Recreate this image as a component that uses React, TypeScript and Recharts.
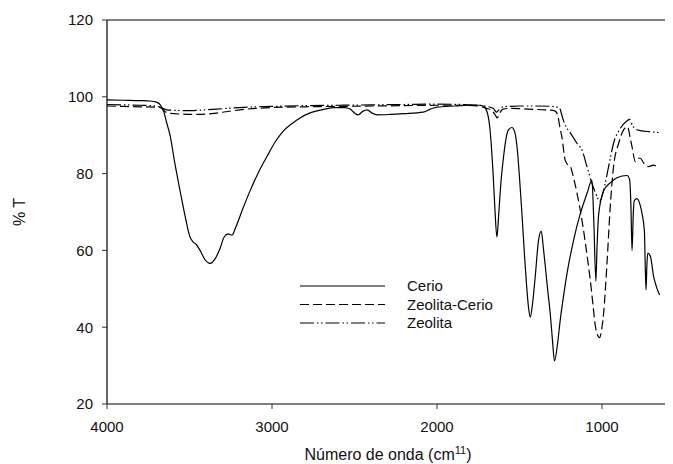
import React from "react";
import { LineChart, Line, XAxis, YAxis, ReferenceLine } from "recharts";

// Cerio (solid)
const cerioWn = [
  4000, 3900, 3800, 3740, 3700, 3675, 3655, 3640, 3618, 3590, 3557, 3527, 3497, 3480, 3460, 3436, 3405, 3375,
  3345, 3315, 3290, 3266, 3242, 3220, 3180, 3133, 3080, 3030, 2980, 2933, 2880, 2830, 2769, 2700, 2630, 2560,
  2526, 2500, 2478, 2450, 2423, 2395, 2363, 2284, 2200, 2084, 2040, 1999, 1900, 1800, 1740, 1720, 1700, 1680,
  1660, 1648, 1637, 1625, 1612, 1599, 1580, 1568, 1546, 1530, 1515, 1500, 1485, 1470, 1459, 1445, 1435, 1420,
  1405, 1385, 1368, 1355, 1344, 1330, 1314, 1300, 1288, 1270, 1253, 1230, 1212, 1172, 1132, 1091, 1061, 1050,
  1037, 1030, 1020, 990, 950, 909, 848, 833, 825, 818, 810, 804, 788, 770, 757, 743, 738, 733, 728, 723, 707,
  687, 670, 651,
];
const cerioT = [
  99.2, 99.1, 99, 98.9, 98.6, 97.8, 96, 93.5, 90, 83, 75.5, 69, 63.5, 62.3, 61.6, 60, 57.5, 56.6,
  57.8, 60.5, 63.5, 64.3, 64, 66, 70.5, 75.5, 80.5, 84.5, 88.3, 91, 93, 94.5, 95.8, 96.6, 97.2, 97.2,
  96.8, 95.8, 95.3, 96.2, 96.6, 95.8, 95.3, 95.4, 95.6, 96, 96.8, 97.3, 97.6, 97.8, 97.8, 97.6, 96.5, 92,
  80, 70, 63.5, 70, 78, 83.5, 89.5, 91.3, 92, 91, 87, 79, 69.5, 59, 52, 45, 42.6, 46.5,
  53, 62.5, 65, 60.5, 56, 50, 43.7, 36.5, 31.2, 35.5, 41.9, 49, 54, 62.7, 69.5, 74.8, 78.3, 68,
  52, 61, 69.5, 75.5, 77.6, 78.9, 79.5, 78.5, 72, 60, 70, 73, 73.5, 72, 69.5, 65, 56, 49.7, 56, 59.3, 58.5,
  53.2, 50.5, 48.4,
];

// Zeolita-Cerio (dashed)
const zeoCerWn = [
  4000, 3900, 3800, 3700, 3670, 3650, 3620, 3550, 3450, 3350, 3250, 3150, 3000, 2800, 2600, 2400, 2200, 2000,
  1850, 1750, 1700, 1670, 1650, 1635, 1620, 1600, 1550, 1450, 1350, 1290, 1270, 1255, 1243, 1223, 1200, 1192,
  1170, 1152, 1130, 1112, 1090, 1071, 1055, 1041, 1025, 1015, 1000, 990, 970, 950, 930, 899, 869, 845, 830,
  818, 798, 780, 768, 748, 718, 687, 657,
];
const zeoCerT = [
  97.6, 97.5, 97.4, 97.3, 97, 96.2, 95.7, 95.5, 95.4, 95.7, 96.3, 96.8, 97.2, 97.4, 97.5, 97.6, 97.7, 97.8,
  97.8, 97.6, 97, 96.5, 95.5, 94.5, 95.8, 96.8, 97, 96.8, 96.6, 96.4, 95.5, 92, 89.5, 83.5, 82, 81.8,
  78.5, 75, 70, 65.3, 58.5, 52.3, 46, 40.5, 37.8, 37.3, 40, 43.7, 56.5, 71.4, 81.8, 87.9, 91.4, 92.2, 89.5,
  87, 83.1, 84, 84, 82.8, 81.8, 82.2, 81.4,
];

// Zeolita (dash-dot-dot)
const zeoWn = [
  4000, 3900, 3800, 3700, 3670, 3640, 3600, 3500, 3400, 3300, 3200, 3000, 2800, 2600, 2400, 2200, 2000, 1850,
  1750, 1700, 1660, 1640, 1625, 1600, 1500, 1400, 1300, 1260, 1235, 1215, 1192, 1152, 1121, 1091, 1061, 1030,
  1015, 990, 960, 930, 889, 855, 833, 815, 798, 768, 707, 657,
];
const zeoT = [
  98, 97.9, 97.8, 97.6, 97.2, 96.6, 96.5, 96.4, 96.6, 96.9, 97.2, 97.5, 97.7, 97.8, 97.9, 98, 98.1, 98,
  97.8, 97.5, 97, 96, 96.6, 97.4, 97.6, 97.6, 97.5, 97.2, 94, 92, 90.6, 87.9, 86.1, 81.8, 77.5, 74,
  72.7, 75.7, 81.8, 87.9, 91.8, 93.5, 94.1, 92.5, 91.6, 91.2, 90.9, 90.7,
];

const xTicks = [4000, 3000, 2000, 1000];
const yTicks = [20, 40, 60, 80, 100, 120];

const toPoints = (wn: number[], t: number[]) => wn.map((x, i) => ({ x, y: t[i] }));
const cerio = toPoints(cerioWn, cerioT);
const zeoCerio = toPoints(zeoCerWn, zeoCerT);
const zeolita = toPoints(zeoWn, zeoT);

const FONT = '"Liberation Sans", Arial, sans-serif';
const DASH = "9 4";
const DASHDOT = "14 3 1.5 2.5 1.5 3";

const legendRows = [
  { name: "Cerio", dash: undefined as string | undefined },
  { name: "Zeolita-Cerio", dash: DASH },
  { name: "Zeolita", dash: DASHDOT },
];

export default function App() {
  return (
    <div style={{ position: "relative", width: 665, height: 456, fontFamily: FONT }}>
      <LineChart width={665} height={456} data={cerio} margin={{ top: 12, right: 5, left: 0, bottom: 0 }}>
        <XAxis
          dataKey="x"
          type="number"
          domain={[600, 4000]}
          reversed
          ticks={xTicks}
          tickSize={5}
          tickMargin={12}
          height={60}
          axisLine={{ stroke: "#808080", strokeWidth: 2 }}
          tickLine={{ stroke: "#333" }}
          tick={{ fill: "#111", fontSize: 15, fontFamily: FONT }}
        />
        <YAxis
          type="number"
          domain={[20, 120]}
          ticks={yTicks}
          width={99}
          tickSize={5}
          tickMargin={9}
          axisLine={{ stroke: "#000", strokeWidth: 1.2 }}
          tickLine={{ stroke: "#333" }}
          tick={{ fill: "#111", fontSize: 15, fontFamily: FONT }}
        />
        <ReferenceLine y={120} stroke="#808080" strokeWidth={2} />
        <Line data={cerio} dataKey="y" type="monotone" stroke="#000" strokeWidth={1.2} dot={false} isAnimationActive={false} />
        <Line data={zeoCerio} dataKey="y" type="monotone" stroke="#000" strokeWidth={1.2} strokeDasharray={DASH} dot={false} isAnimationActive={false} />
        <Line data={zeolita} dataKey="y" type="monotone" stroke="#000" strokeWidth={1.2} strokeDasharray={DASHDOT} dot={false} isAnimationActive={false} />
      </LineChart>

      {/* legend and axis titles */}
      <svg width={665} height={456} style={{ position: "absolute", left: 0, top: 0, pointerEvents: "none" }}>
        {legendRows.map((r, i) => {
          const y = 278 + i * 18.5;
          return (
            <g key={r.name}>
              <line x1={292} x2={377} y1={y} y2={y} stroke="#000" strokeWidth={1.2} strokeDasharray={r.dash} />
              <text x={399} y={y + 5} fontSize={15} fill="#111" fontFamily={FONT}>
                {r.name}
              </text>
            </g>
          );
        })}
        <text x={17} y={204} fontSize={16} fill="#111" fontFamily={FONT} textAnchor="middle" transform="rotate(-90, 17, 204)">
          % T
        </text>
        <text x={380} y={452} fontSize={16} fill="#111" fontFamily={FONT} textAnchor="middle">
          Número de onda (cm<tspan fontSize={11} dy={-6}>11</tspan>
          <tspan dy={6}>)</tspan>
        </text>
      </svg>
    </div>
  );
}
